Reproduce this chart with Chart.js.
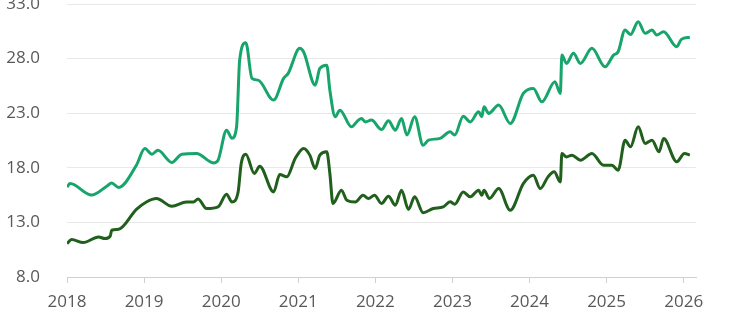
<!DOCTYPE html>
<html><head><meta charset="utf-8">
<script src="https://cdn.jsdelivr.net/npm/chart.js@4/dist/chart.umd.min.js"></script>
<style>html,body{margin:0;padding:0;background:#fff}canvas{display:block}</style>
</head><body>
<canvas id="c" width="732" height="324" style="width:732px;height:324px"></canvas>
<script>
const upperDates = [2018.00,2018.04,2018.32,2018.52,2018.58,2018.67,2018.90,2019.01,2019.10,2019.18,2019.36,2019.49,2019.68,2019.90,2019.96,2020.07,2020.14,2020.20,2020.24,2020.32,2020.40,2020.48,2020.68,2020.81,2020.87,2021.02,2021.07,2021.22,2021.28,2021.37,2021.41,2021.48,2021.54,2021.69,2021.78,2021.82,2021.87,2021.95,2022.08,2022.17,2022.26,2022.34,2022.41,2022.51,2022.62,2022.69,2022.84,2022.97,2023.03,2023.14,2023.23,2023.34,2023.38,2023.41,2023.47,2023.60,2023.75,2023.92,2024.05,2024.16,2024.33,2024.40,2024.42,2024.48,2024.57,2024.66,2024.81,2024.98,2025.09,2025.15,2025.24,2025.31,2025.41,2025.50,2025.59,2025.65,2025.74,2025.91,2025.97,2026.08];
const upperValues = [16.25,16.56,15.5,16.34,16.6,16.2,18.24,19.77,19.25,19.6,18.49,19.25,19.31,18.45,18.7,21.45,20.7,21.75,27.87,29.45,26.19,26.03,24.2,26.19,26.65,28.94,28.6,25.57,27.1,27.4,25.1,22.67,23.28,21.75,22.37,22.52,22.2,22.37,21.5,22.3,21.45,22.52,21.0,22.67,20.07,20.53,20.69,21.29,21.0,22.73,22.2,23.13,22.67,23.58,22.98,23.74,22.06,24.81,25.27,24.04,25.88,24.81,28.32,27.56,28.48,27.56,28.94,27.25,28.32,28.63,30.62,30.2,31.38,30.31,30.62,30.16,30.46,29.09,29.76,29.95];
const lowerDates = [2018.00,2018.06,2018.21,2018.41,2018.49,2018.56,2018.58,2018.67,2018.90,2019.03,2019.16,2019.36,2019.55,2019.64,2019.70,2019.81,2019.96,2020.07,2020.14,2020.22,2020.26,2020.32,2020.43,2020.50,2020.68,2020.76,2020.85,2020.96,2021.07,2021.15,2021.22,2021.28,2021.37,2021.41,2021.45,2021.56,2021.63,2021.74,2021.84,2021.91,2021.99,2022.08,2022.17,2022.26,2022.34,2022.43,2022.51,2022.62,2022.75,2022.88,2022.97,2023.03,2023.14,2023.23,2023.34,2023.38,2023.41,2023.48,2023.60,2023.75,2023.92,2024.05,2024.14,2024.24,2024.32,2024.40,2024.42,2024.48,2024.55,2024.66,2024.81,2024.96,2025.07,2025.15,2025.24,2025.31,2025.41,2025.50,2025.59,2025.68,2025.74,2025.91,2026.01,2026.08];
const lowerValues = [11.06,11.43,11.15,11.67,11.52,11.73,12.28,12.37,14.19,14.87,15.19,14.48,14.87,14.87,15.15,14.27,14.42,15.58,14.87,15.79,18.4,19.25,17.48,18.15,15.79,17.38,17.17,18.85,19.77,19.16,17.94,19.16,19.46,17.48,14.73,15.95,15.03,14.87,15.49,15.19,15.49,14.73,15.4,14.57,15.95,14.19,15.34,13.88,14.27,14.42,14.88,14.67,15.79,15.34,15.95,15.49,15.95,15.19,16.1,14.11,16.56,17.32,16.1,17.17,17.63,16.71,19.31,19.0,19.16,18.7,19.31,18.24,18.24,17.78,20.53,19.92,21.75,20.23,20.53,19.46,20.69,18.55,19.31,19.16];
const yTicks = [8, 13, 18, 23, 28, 33];
const xTicks = [2018, 2019, 2020, 2021, 2022, 2023, 2024, 2025, 2026];

const pts = (xs, ys) => xs.map((x, i) => ({x: x, y: ys[i]}));
const font = {family: "'Open Sans', sans-serif", size: 17};

new Chart(document.getElementById('c'), {
  type: 'line',
  data: {
    datasets: [
      {data: pts(upperDates, upperValues), borderColor: '#17a56c', borderWidth: 3, pointRadius: 0, cubicInterpolationMode: 'monotone', fill: false},
      {data: pts(lowerDates, lowerValues), borderColor: '#215f1d', borderWidth: 3, pointRadius: 0, cubicInterpolationMode: 'monotone', fill: false}
    ]
  },
  options: {
    responsive: false,
    animation: false,
    layout: {padding: {left: 0, right: 36, top: 4, bottom: 0}},
    plugins: {legend: {display: false}, tooltip: {enabled: false}},
    scales: {
      x: {
        type: 'linear', min: 2018, max: 2026.16,
        afterBuildTicks: s => { s.ticks = xTicks.map(v => ({value: v})); },
        ticks: {font: font, color: '#595959', padding: 9, maxRotation: 0, callback: v => String(v)},
        grid: {display: true, drawOnChartArea: false, drawTicks: true, tickLength: 6, color: '#d0d0d0'},
        border: {display: true, color: '#d0d0d0', width: 1},
        afterFit: s => { s.height = 47; s.paddingLeft = 0; s.paddingRight = 0; }
      },
      y: {
        min: 8, max: 33,
        afterBuildTicks: s => { s.ticks = yTicks.map(v => ({value: v})); },
        ticks: {font: font, color: '#595959', padding: 27, callback: v => v.toFixed(1)},
        grid: {color: '#e8e8e8', drawTicks: false, lineWidth: 1},
        border: {display: false},
        afterFit: s => { s.width = 67; s.paddingTop = 0; s.paddingBottom = 0; }
      }
    }
  }
});
</script>
</body></html>
